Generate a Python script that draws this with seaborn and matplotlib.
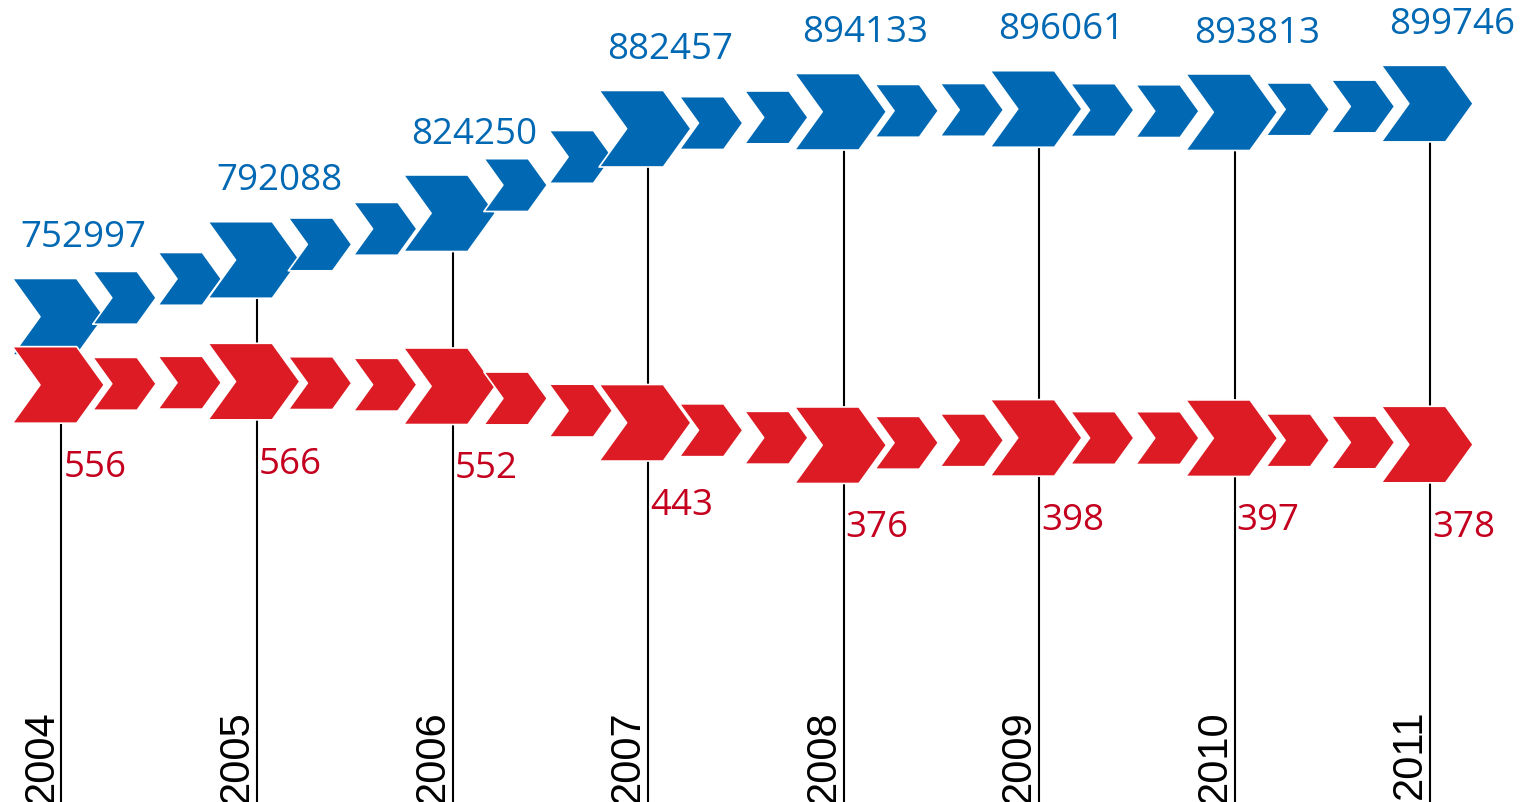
"""Chevron timeline: two series drawn as arrow markers above yearly guide lines."""
import matplotlib
matplotlib.use("Agg")
import matplotlib.pyplot as plt
import numpy as np
import pandas as pd
import seaborn as sns
from matplotlib.markers import MarkerStyle
from matplotlib.path import Path
from matplotlib.transforms import blended_transform_factory

years = [2004, 2005, 2006, 2007, 2008, 2009, 2010, 2011]
blue_values = [752997, 792088, 824250, 882457, 894133, 896061, 893813, 899746]
red_values = [556, 566, 552, 443, 376, 398, 397, 378]

BLUE = "#0168b3"
RED = "#dc1b24"
RED_TEXT = "#c4001e"

W, H, DPI = 1521, 803, 100
PX = 72 / DPI  # points per pixel

# chevron outline in pixels, origin sits on the year line
CHEVRON = MarkerStyle(Path(
    [(-48, 37.5), (15, 37.5), (42, 0), (15, -37.5), (-48, -37.5), (-21, 0), (-48, 37.5)],
    closed=True,
))
S_BIG = (98 * PX) ** 2
S_SMALL = (98 * 0.69 * PX) ** 2


def chevron_frame(values):
    # one big arrow per year, two smaller ones stepping towards the next year
    rows = []
    for i, (yr, v) in enumerate(zip(years, values)):
        rows.append((yr, v, "big"))
        if i + 1 < len(years):
            nxt = values[i + 1]
            for f in (1 / 3, 2 / 3):
                rows.append((yr + f, v + (nxt - v) * f, "small"))
    return pd.DataFrame(rows, columns=["year", "value", "kind"])


sns.set_theme(style="white")
plt.rcParams["font.family"] = ["Open Sans", "DejaVu Sans"]

fig = plt.figure(figsize=(W / DPI, H / DPI), dpi=DPI)
ax = fig.add_axes([0, 0, 1, 1])
ax2 = ax.twinx()

blue_lim = (418858, 971774)
red_lim = (-689, 1708)

ax.vlines(years, blue_lim[0], blue_values, color="black", lw=1.5, zorder=0.5)

for a, vals, col in [(ax, blue_values, BLUE), (ax2, red_values, RED)]:
    sns.scatterplot(
        data=chevron_frame(vals), x="year", y="value",
        size="kind", sizes={"big": S_BIG, "small": S_SMALL},
        marker=CHEVRON, color=col, edgecolor="white", linewidth=1.2,
        legend=False, ax=a, zorder=2,
    )

for yr, v in zip(years, blue_values):
    ax.annotate(f"{v}", xy=(yr, v), xytext=(22 * PX, 70.5 * PX), textcoords="offset points",
                ha="center", va="baseline", fontsize=26.5, color=BLUE)
for yr, v in zip(years, red_values):
    ax2.annotate(f"{v}", xy=(yr, v), xytext=(2 * PX, -91 * PX), textcoords="offset points",
                 ha="left", va="baseline", fontsize=26.5, color=RED_TEXT)

trans = blended_transform_factory(ax.transData, ax.transAxes)
for yr in years:
    ax.text(yr, 1 - 710 / H, str(yr), transform=trans, rotation=90, ha="right", va="top",
            fontsize=30, family="Liberation Sans", color="black")

ax.set_xlim(2003.686, 2011.464)
ax.set_ylim(*blue_lim)
ax2.set_ylim(*red_lim)
for a in (ax, ax2):
    a.set_axis_off()

fig.savefig("out.png", dpi=DPI, facecolor="white")
plt.close(fig)
